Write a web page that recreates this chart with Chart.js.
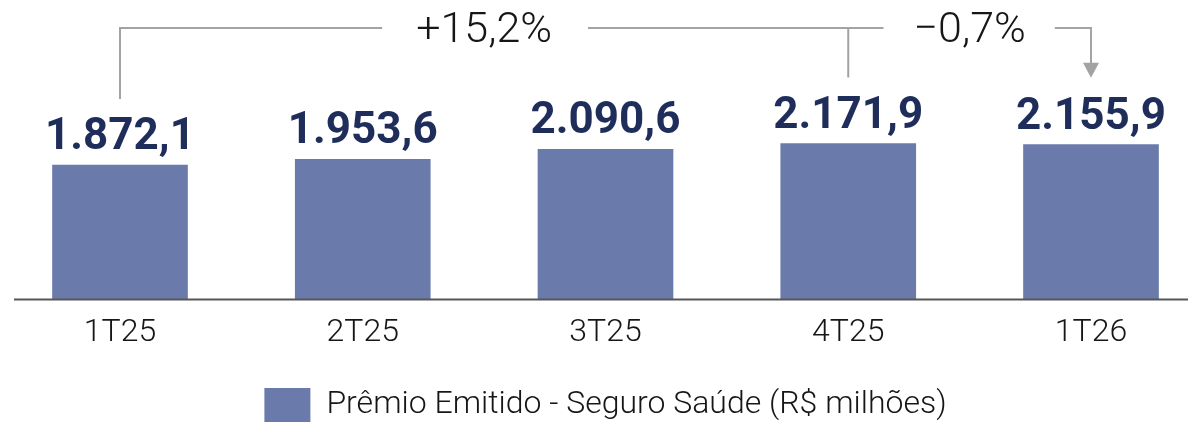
<!DOCTYPE html>
<html lang="pt">
<head>
  <meta charset="UTF-8" />
  <title>Prêmio Emitido - Seguro Saúde</title>
  <script src="https://cdn.jsdelivr.net/npm/chart.js"></script>
  <style>
    html, body { margin: 0; padding: 0; background: #fff; }
    .wrap { width: 1188px; height: 422px; }
  </style>
</head>
<body>
<div class="wrap"><canvas id="premioChart" width="1188" height="422"></canvas></div>

<script>
  const quarters = ["1T25", "2T25", "3T25", "4T25", "1T26"];
  const premio = [1872.1, 1953.6, 2090.6, 2171.9, 2155.9];
  const legendLabel = "Prêmio Emitido - Seguro Saúde (R$ milhões)";

  const barColor = "#6a7aab";
  const navy = "#1f2d5b";
  const grey = "#a3a3a3";
  const font = "Roboto, 'Liberation Sans', sans-serif";

  const fmt = v => v.toLocaleString("pt-BR", { minimumFractionDigits: 1, maximumFractionDigits: 1 });
  const pct = (a, b) => {
    const p = (b / a - 1) * 100;
    return (p >= 0 ? "+" : "\u2212") + Math.abs(p).toFixed(1).replace(".", ",") + "%";
  };

  const overlay = {
    id: "overlay",
    afterDatasetsDraw(chart) {
      const { ctx, scales: { x, y } } = chart;
      const base = y.getPixelForValue(0);

      // eixo
      ctx.save();
      ctx.strokeStyle = "#565656";
      ctx.lineWidth = 2;
      ctx.beginPath();
      ctx.moveTo(14, base);
      ctx.lineTo(chart.width, base);
      ctx.stroke();

      // valores
      ctx.fillStyle = navy;
      ctx.font = "bold 44px " + font;
      ctx.textAlign = "center";
      ctx.textBaseline = "alphabetic";
      premio.forEach((v, i) => {
        ctx.fillText(fmt(v), x.getPixelForValue(i), y.getPixelForValue(v) - 16);
      });

      // colchetes de variação
      const lineY = 28;
      const x0 = x.getPixelForValue(0);
      const x3 = x.getPixelForValue(3);
      const x4 = x.getPixelForValue(4);
      const t1 = pct(premio[0], premio[4]);
      const t2 = pct(premio[3], premio[4]);

      ctx.font = "300 43px " + font;
      ctx.fillStyle = "#161616";
      ctx.textBaseline = "middle";
      const c1 = (x0 + x3) / 2, c2 = (x3 + x4) / 2;
      const w1 = ctx.measureText(t1).width, w2 = ctx.measureText(t2).width;
      ctx.fillText(t1, c1, lineY + 3);
      ctx.fillText(t2, c2, lineY + 3);

      ctx.strokeStyle = grey;
      ctx.lineWidth = 2;
      ctx.beginPath();
      ctx.moveTo(x0, y.getPixelForValue(premio[0]) - 66);
      ctx.lineTo(x0, lineY);
      ctx.lineTo(c1 - w1 / 2 - 34, lineY);
      ctx.moveTo(c1 + w1 / 2 + 36, lineY);
      ctx.lineTo(c2 - w2 / 2 - 30, lineY);
      ctx.moveTo(x3, lineY);
      ctx.lineTo(x3, y.getPixelForValue(premio[3]) - 66);
      ctx.moveTo(c2 + w2 / 2 + 29, lineY);
      ctx.lineTo(x4, lineY);
      ctx.lineTo(x4, y.getPixelForValue(premio[4]) - 80);
      ctx.stroke();

      const tip = y.getPixelForValue(premio[4]) - 67;
      ctx.fillStyle = grey;
      ctx.beginPath();
      ctx.moveTo(x4 - 8, tip - 15);
      ctx.lineTo(x4 + 8, tip - 15);
      ctx.lineTo(x4, tip);
      ctx.closePath();
      ctx.fill();
      ctx.restore();
    }
  };

  new Chart(document.getElementById("premioChart"), {
    type: "bar",
    data: {
      labels: quarters,
      datasets: [{
        label: legendLabel,
        data: premio,
        backgroundColor: barColor,
        borderWidth: 0,
        barThickness: 135,
        clip: false
      }]
    },
    options: {
      responsive: false,
      animation: false,
      layout: { padding: { left: 120, right: 97, top: 0, bottom: -10 } },
      scales: {
        x: {
          offset: false,
          grid: { display: false, drawTicks: false },
          border: { display: false },
          ticks: { color: "#161616", font: { family: font, size: 32, weight: 300 }, padding: 14, maxRotation: 0 },
          afterFit(scale) { scale.height = 88.5; }
        },
        y: { display: false, min: 0, max: 4171 }
      },
      plugins: {
        legend: {
          position: "bottom",
          labels: {
            boxWidth: 46,
            boxHeight: 34,
            padding: 0,
            color: "#161616",
            font: { family: font, size: 32, weight: 300 }
          }
        },
        tooltip: { enabled: false }
      }
    },
    plugins: [overlay]
  });
</script>
</body>
</html>
